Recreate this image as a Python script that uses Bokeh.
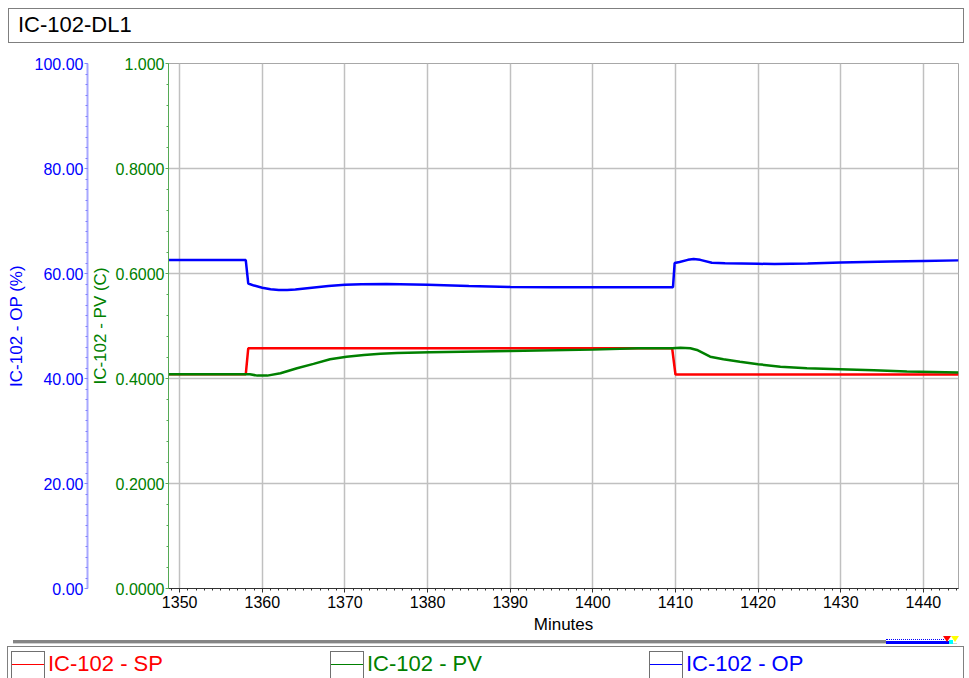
from bokeh.plotting import figure
from bokeh.models import Range1d, LinearAxis, FixedTicker, NumeralTickFormatter, Div
from bokeh.layouts import column
from bokeh.embed import file_html
from bokeh.resources import INLINE

# ---------------- data ----------------
title_text = "IC-102-DL1"
x_label = "Minutes"
op_axis_label = "IC-102 - OP (%)"
pv_axis_label = "IC-102 - PV (C)"
series_names = ["IC-102 - SP", "IC-102 - PV", "IC-102 - OP"]
series_colors = ["#ff0000", "#008000", "#0000ff"]

x_ticks = [1350, 1360, 1370, 1380, 1390, 1400, 1410, 1420, 1430, 1440]
pv_ticks = [0.0, 0.2, 0.4, 0.6, 0.8, 1.0]
pv_tick_labels = ["0.0000", "0.2000", "0.4000", "0.6000", "0.8000", "1.000"]
op_ticks = [0, 20, 40, 60, 80, 100]

sp_t = [1348.65, 1358.0, 1358.3, 1409.6, 1410.0, 1444.25]
sp_v = [0.408, 0.408, 0.4575, 0.4575, 0.4075, 0.4075]

pv_t = [1348.65, 1358.5, 1359.4, 1360.6, 1362.2, 1364.2, 1366.2, 1368.2, 1370.2,
        1372.3, 1374.3, 1376.3, 1380.3, 1390.0, 1400.0, 1405.5, 1409.6, 1410.6,
        1411.8, 1412.6, 1414.2, 1415.8, 1417.8, 1420.0, 1422.7, 1425.9, 1429.9,
        1434.0, 1438.0, 1444.25]
pv_v = [0.408, 0.408, 0.4055, 0.4055, 0.410, 0.4196, 0.4278, 0.4367, 0.4416,
        0.4449, 0.4473, 0.4487, 0.4500, 0.4525, 0.4550, 0.4576, 0.4576, 0.4587,
        0.4576, 0.4544, 0.4416, 0.4367, 0.4321, 0.4272, 0.4226, 0.4196, 0.4177,
        0.4158, 0.4131, 0.4112]

op_t = [1348.65, 1358.0, 1358.3, 1359.0, 1360.0, 1361.0, 1362.0, 1363.0, 1364.0,
        1366.0, 1368.0, 1370.0, 1372.0, 1375.0, 1380.0, 1385.0, 1390.0, 1395.0,
        1400.0, 1405.0, 1409.7, 1409.9, 1410.5, 1411.5, 1412.2, 1413.0, 1414.4,
        1416.0, 1418.0, 1420.0, 1422.0, 1424.0, 1426.0, 1428.0, 1430.0, 1433.0,
        1436.0, 1440.0, 1444.25]
op_v = [62.55, 62.55, 58.1, 57.7, 57.3, 57.0, 56.85, 56.85, 56.95,
        57.3, 57.6, 57.85, 57.95, 58.0, 57.85, 57.6, 57.45, 57.4,
        57.4, 57.4, 57.4, 62.0, 62.2, 62.6, 62.75, 62.6, 62.05,
        61.95, 61.9, 61.85, 61.8, 61.85, 61.9, 62.0, 62.1, 62.2,
        62.3, 62.4, 62.5]

FONT = "Liberation Sans"
W = 969
TITLE_H = 50
MAIN_H = 586
LEG_H = 678 - TITLE_H - MAIN_H

# ---------------- title strip (HTML) ----------------
title_html = (
    f'<div style="position:relative;width:{W}px;height:{TITLE_H}px;overflow:hidden;'
    f'font-family:\'{FONT}\';background:white;">'
    '<div style="position:absolute;box-sizing:border-box;left:8px;top:8px;width:956px;height:35px;'
    'border:1px solid #7f7f7f;"></div>'
    '<div style="position:absolute;left:18px;top:14px;font-size:22px;line-height:22px;'
    f'color:black;white-space:nowrap;">{title_text}</div>'
    '</div>'
)
title_div = Div(text=title_html, width=W, height=TITLE_H, margin=0)

# ---------------- main chart ----------------
p = figure(width=W, height=MAIN_H, x_range=Range1d(1348.65, 1444.25), y_range=Range1d(0, 1),
           toolbar_location=None, output_backend="svg",
           min_border_left=168, min_border_right=11, min_border_top=13, min_border_bottom=47)
p.outline_line_color = "#a8a8a8"
p.extra_y_ranges = {"op": Range1d(0, 100)}

# x axis
xa = p.xaxis[0]
xa.ticker = FixedTicker(ticks=x_ticks, minor_ticks=list(range(1349, 1445)))
xa.axis_label = x_label
xa.axis_line_color = "#333333"
xa.major_tick_line_color = "#333333"
xa.minor_tick_line_color = "#333333"
xa.major_tick_out = 4
xa.major_tick_in = 0
xa.minor_tick_out = 2
xa.minor_tick_in = 0
xa.major_label_standoff = 3
xa.axis_label_standoff = 4
xa.major_label_text_font = FONT
xa.major_label_text_font_size = "16px"
xa.major_label_text_color = "black"
xa.axis_label_text_font = FONT
xa.axis_label_text_font_size = "17px"
xa.axis_label_text_font_style = "normal"
xa.axis_label_text_color = "black"

# green (PV) axis next to frame
ya = p.yaxis[0]
ya.ticker = FixedTicker(ticks=pv_ticks, minor_ticks=[i * 0.04 for i in range(26)])
ya.major_label_overrides = dict(zip(pv_ticks, pv_tick_labels))
ya.axis_label = pv_axis_label
ya.axis_line_color = "#55aa55"
ya.major_tick_line_color = "#55aa55"
ya.minor_tick_line_color = "#55aa55"
ya.major_tick_out = 3
ya.major_tick_in = 0
ya.minor_tick_out = 2
ya.minor_tick_in = 0
ya.major_label_standoff = 1
ya.axis_label_standoff = 3
ya.major_label_text_font = FONT
ya.major_label_text_font_size = "16px"
ya.major_label_text_color = "#008000"
ya.axis_label_text_font = FONT
ya.axis_label_text_font_size = "17px"
ya.axis_label_text_font_style = "normal"
ya.axis_label_text_color = "#008000"

# blue (OP) axis further left
ba = LinearAxis(y_range_name="op",
                ticker=FixedTicker(ticks=op_ticks, minor_ticks=list(range(0, 101, 2))),
                formatter=NumeralTickFormatter(format="0.00"))
ba.axis_label = op_axis_label
ba.axis_line_color = "#a8a8ff"
ba.axis_line_width = 2
ba.major_tick_line_color = "#8080ff"
ba.minor_tick_line_color = "#8080ff"
ba.major_tick_out = 3
ba.major_tick_in = 0
ba.minor_tick_out = 2
ba.minor_tick_in = 0
ba.major_label_standoff = 1
ba.axis_label_standoff = 6
ba.major_label_text_font = FONT
ba.major_label_text_font_size = "16px"
ba.major_label_text_color = "#0000ff"
ba.axis_label_text_font = FONT
ba.axis_label_text_font_size = "17px"
ba.axis_label_text_font_style = "normal"
ba.axis_label_text_color = "#0000ff"
p.add_layout(ba, "left")

p.xgrid.grid_line_color = "#c0c0c0"
p.xgrid.grid_line_width = 1.5
p.ygrid.grid_line_color = "#c0c0c0"
p.ygrid.grid_line_width = 1.5

p.line(sp_t, sp_v, line_color=series_colors[0], line_width=2.5)
p.line(pv_t, pv_v, line_color=series_colors[1], line_width=2.5)
p.line(op_t, op_v, line_color=series_colors[2], line_width=2.5, y_range_name="op")

# ---------------- legend strip (HTML) ----------------
box_left = [11, 330, 649]
parts = [
    f'<div style="position:relative;width:{W}px;height:{LEG_H}px;overflow:hidden;'
    f'font-family:\'{FONT}\';background:white;">',
    # separator / scroll bar
    '<div style="position:absolute;left:13px;top:4px;width:873px;height:3px;background:#858585;"></div>',
    '<div style="position:absolute;left:13px;top:7px;width:944px;height:1px;background:#d0d0d0;"></div>',
    '<div style="position:absolute;left:886px;top:5px;width:65px;height:3px;background:#0000ff;"></div>',
    '<div style="position:absolute;left:886px;top:3px;width:58px;height:0;border-top:1px dotted #0000ff;"></div>',
    '<div style="position:absolute;left:943px;top:0px;width:0;height:0;border-left:4px solid transparent;'
    'border-right:4px solid transparent;border-top:6px solid #ff0000;"></div>',
    '<div style="position:absolute;left:951px;top:0px;width:0;height:0;border-left:4px solid transparent;'
    'border-right:4px solid transparent;border-top:6px solid #ffff00;"></div>',
    '<div style="position:absolute;left:949px;top:4px;width:4px;height:4px;background:#00ffff;"></div>',
    # legend frame
    '<div style="position:absolute;box-sizing:border-box;left:7px;top:10px;width:957px;height:60px;'
    'border:1px solid #808080;"></div>',
]
for bl, name, col in zip(box_left, series_names, series_colors):
    parts.append(
        f'<div style="position:absolute;box-sizing:border-box;left:{bl}px;top:15px;width:34px;height:60px;'
        f'border:1px solid #707070;"></div>')
    parts.append(
        f'<div style="position:absolute;left:{bl + 1}px;top:28px;width:32px;height:1px;background:{col};"></div>')
    parts.append(
        f'<div style="position:absolute;left:{bl + 37}px;top:17px;font-size:22px;line-height:22px;'
        f'color:{col};white-space:nowrap;">{name}</div>')
parts.append('</div>')
legend_div = Div(text="".join(parts), width=W, height=LEG_H, margin=0)

layout = column(title_div, p, legend_div, spacing=0)
open("out.html", "w").write(file_html(layout, INLINE))
